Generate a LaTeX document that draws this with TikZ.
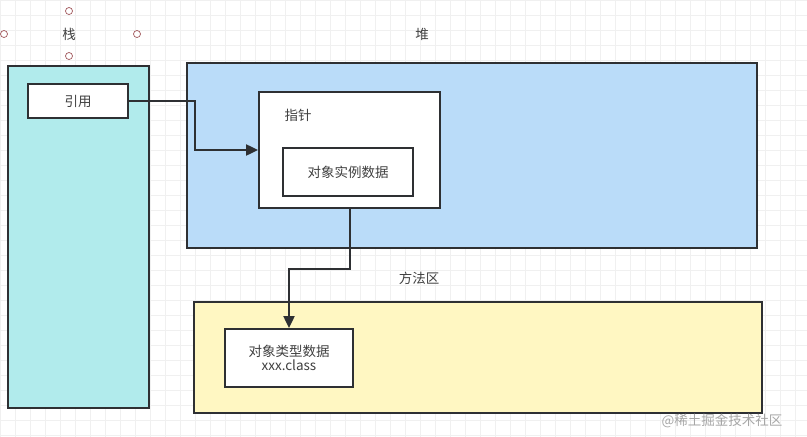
\documentclass[tikz,border=0pt]{standalone}
\usepackage{fontspec}
\setmainfont{Noto Sans CJK SC}
\usepackage{xcolor}
\usetikzlibrary{positioning,arrows.meta}

\definecolor{stackfill}{HTML}{B1EBEC}
\definecolor{heapfill}{HTML}{BADCF9}
\definecolor{methodfill}{HTML}{FFF7C2}
\definecolor{edge}{HTML}{2E3033}
\definecolor{handle}{HTML}{A0565A}

\begin{document}
\begin{tikzpicture}[x=1pt, y=-1pt,
        area/.style={draw=edge, line width=1.8pt, anchor=center},
        box/.style={draw=edge, line width=1.8pt, fill=white, font=\fontsize{13.5}{17}\selectfont, text=black!75, align=center},
        lbl/.style={font=\fontsize{13.5}{17}\selectfont, text=black!75},
        link/.style={draw=edge, line width=2pt, -{Triangle[length=12pt, width=11pt]}},
        gridline/.style={draw=black!6, line width=0.6pt},
    ]
        \useasboundingbox (0,0) rectangle (807,437);
        % background grid
        \foreach \gx in {0,15,...,807} \draw[gridline] (\gx,0) -- (\gx,437);
        \foreach \gy in {0,15,...,437} \draw[gridline] (0,\gy) -- (807,\gy);

        % memory areas
        \node[area, fill=stackfill, minimum width=141pt, minimum height=342pt] (stack) at (78.5,237) {};
        \node[area, fill=heapfill, minimum width=570pt, minimum height=185pt] (heap) at (472,155.5) {};
        \node[area, fill=methodfill, minimum width=568pt, minimum height=111pt] (method) at (478,357.5) {};

        \node[lbl] (stacklbl) at (69,34) {栈};
        \node[lbl] (heaplbl) at (422,34) {堆};
        \node[lbl] (methodlbl) at (419,278) {方法区};

        % selection handles round the stack label
        \foreach \hx/\hy in {69/11, 4/34, 137/34, 69/56}
            \draw[handle, fill=white, line width=0.7pt] (\hx,\hy) circle (3.5pt);

        % inner boxes
        \node[box, minimum width=100pt, minimum height=34pt] (ref) at (78,101) {引用};
        \node[box, minimum width=181pt, minimum height=116pt] (ptr) at (349.5,150) {};
        \node[lbl] (ptrlbl) at (298,115) {指针};
        \node[box, minimum width=130pt, minimum height=48pt] (inst) at (348,172) {对象实例数据};
        \node[box, minimum width=128pt, minimum height=58pt] (type) at (289,358) {对象类型数据\\[-3pt]xxx.class};

        % references
        \draw[link] (ref.east) -- ++(66,0) |- (ptr.west);
        \draw[link] (ptr.south) -- ++(0,60) -| (type.north);

        \node[text=black!35, font=\fontsize{13.5}{17}\selectfont] (mark) at (722,421) {@稀土掘金技术社区};
    \end{tikzpicture}
\end{document}
